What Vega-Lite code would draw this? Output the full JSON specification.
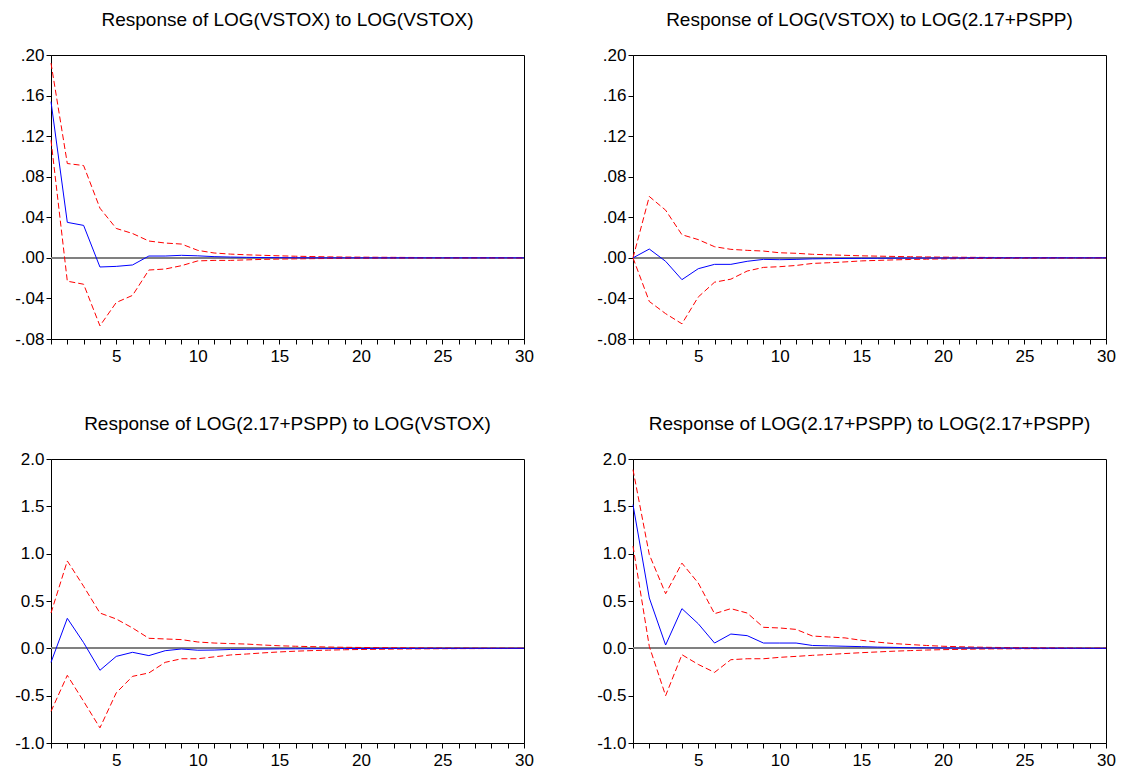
{
  "$schema": "https://vega.github.io/schema/vega-lite/v6.json",
  "background": "white",
  "padding": {"left": 14, "top": 10, "right": 0, "bottom": 0},
  "columns": 2,
  "spacing": {"column": 62, "row": 49},
  "datasets": {
    "p1": [
      {"h":1,"r":0.154,"hi":0.192,"lo":0.116},{"h":2,"r":0.035,"hi":0.093,"lo":-0.023},{"h":3,"r":0.032,"hi":0.091,"lo":-0.026},{"h":4,"r":-0.009,"hi":0.049,"lo":-0.067},{"h":5,"r":-0.0084,"hi":0.029,"lo":-0.044},{"h":6,"r":-0.007,"hi":0.024,"lo":-0.037},{"h":7,"r":0.0018,"hi":0.0166,"lo":-0.012},{"h":8,"r":0.0018,"hi":0.0146,"lo":-0.011},{"h":9,"r":0.0025,"hi":0.0136,"lo":-0.0077},{"h":10,"r":0.002,"hi":0.0074,"lo":-0.003},
      {"h":11,"r":0.0012,"hi":0.0048,"lo":-0.0025},{"h":12,"r":0.0008,"hi":0.0037,"lo":-0.0025},{"h":13,"r":0.0005,"hi":0.003,"lo":-0.002},{"h":14,"r":0.0003,"hi":0.0025,"lo":-0.0015},{"h":15,"r":0.0002,"hi":0.002,"lo":-0.0012},{"h":16,"r":0.0001,"hi":0.0016,"lo":-0.001},{"h":17,"r":0,"hi":0.0013,"lo":-0.0008},{"h":18,"r":0,"hi":0.001,"lo":-0.0006},{"h":19,"r":0,"hi":0.0008,"lo":-0.0005},{"h":20,"r":0,"hi":0.0007,"lo":-0.0004},
      {"h":21,"r":0,"hi":0.0006,"lo":-0.0003},{"h":22,"r":0,"hi":0.0005,"lo":-0.0003},{"h":23,"r":0,"hi":0.0004,"lo":-0.0002},{"h":24,"r":0,"hi":0.0003,"lo":-0.0002},{"h":25,"r":0,"hi":0.0003,"lo":-0.0002},{"h":26,"r":0,"hi":0.0002,"lo":-0.0001},{"h":27,"r":0,"hi":0.0002,"lo":-0.0001},{"h":28,"r":0,"hi":0.0002,"lo":-0.0001},{"h":29,"r":0,"hi":0.0001,"lo":-0.0001},{"h":30,"r":0,"hi":0.0001,"lo":-0.0001}
    ],
    "p2": [
      {"h":1,"r":0,"hi":0,"lo":0},{"h":2,"r":0.0087,"hi":0.0605,"lo":-0.043},{"h":3,"r":-0.0034,"hi":0.047,"lo":-0.055},{"h":4,"r":-0.0215,"hi":0.0228,"lo":-0.065},{"h":5,"r":-0.0107,"hi":0.018,"lo":-0.0386},{"h":6,"r":-0.0064,"hi":0.011,"lo":-0.024},{"h":7,"r":-0.0064,"hi":0.0084,"lo":-0.021},{"h":8,"r":-0.0034,"hi":0.0074,"lo":-0.013},{"h":9,"r":-0.0015,"hi":0.0067,"lo":-0.0094},{"h":10,"r":-0.0018,"hi":0.005,"lo":-0.0087},
      {"h":11,"r":-0.0015,"hi":0.0045,"lo":-0.0075},{"h":12,"r":-0.001,"hi":0.0035,"lo":-0.0055},{"h":13,"r":-0.0008,"hi":0.003,"lo":-0.0048},{"h":14,"r":-0.0006,"hi":0.0025,"lo":-0.004},{"h":15,"r":-0.0005,"hi":0.002,"lo":-0.003},{"h":16,"r":-0.0004,"hi":0.0017,"lo":-0.0025},{"h":17,"r":-0.0003,"hi":0.0014,"lo":-0.002},{"h":18,"r":-0.0002,"hi":0.0011,"lo":-0.0016},{"h":19,"r":-0.0002,"hi":0.0009,"lo":-0.0013},{"h":20,"r":-0.0001,"hi":0.0007,"lo":-0.001},
      {"h":21,"r":-0.0001,"hi":0.0006,"lo":-0.0008},{"h":22,"r":0,"hi":0.0005,"lo":-0.0006},{"h":23,"r":0,"hi":0.0004,"lo":-0.0005},{"h":24,"r":0,"hi":0.0003,"lo":-0.0004},{"h":25,"r":0,"hi":0.0003,"lo":-0.0003},{"h":26,"r":0,"hi":0.0002,"lo":-0.0003},{"h":27,"r":0,"hi":0.0002,"lo":-0.0002},{"h":28,"r":0,"hi":0.0001,"lo":-0.0002},{"h":29,"r":0,"hi":0.0001,"lo":-0.0001},{"h":30,"r":0,"hi":0.0001,"lo":-0.0001}
    ],
    "p3": [
      {"h":1,"r":-0.148,"hi":0.373,"lo":-0.666},{"h":2,"r":0.317,"hi":0.923,"lo":-0.285},{"h":3,"r":0.06,"hi":0.655,"lo":-0.56},{"h":4,"r":-0.232,"hi":0.373,"lo":-0.84},{"h":5,"r":-0.085,"hi":0.31,"lo":-0.47},{"h":6,"r":-0.042,"hi":0.215,"lo":-0.296},{"h":7,"r":-0.077,"hi":0.106,"lo":-0.26},{"h":8,"r":-0.025,"hi":0.099,"lo":-0.148},{"h":9,"r":-0.007,"hi":0.092,"lo":-0.11},{"h":10,"r":-0.02,"hi":0.067,"lo":-0.11},
      {"h":11,"r":-0.018,"hi":0.056,"lo":-0.09},{"h":12,"r":-0.012,"hi":0.05,"lo":-0.07},{"h":13,"r":-0.01,"hi":0.045,"lo":-0.06},{"h":14,"r":-0.008,"hi":0.035,"lo":-0.048},{"h":15,"r":-0.006,"hi":0.027,"lo":-0.038},{"h":16,"r":-0.005,"hi":0.022,"lo":-0.03},{"h":17,"r":-0.004,"hi":0.018,"lo":-0.024},{"h":18,"r":-0.003,"hi":0.014,"lo":-0.019},{"h":19,"r":-0.002,"hi":0.011,"lo":-0.015},{"h":20,"r":-0.002,"hi":0.009,"lo":-0.012},
      {"h":21,"r":-0.001,"hi":0.007,"lo":-0.01},{"h":22,"r":-0.001,"hi":0.006,"lo":-0.008},{"h":23,"r":-0.001,"hi":0.005,"lo":-0.006},{"h":24,"r":0,"hi":0.004,"lo":-0.005},{"h":25,"r":0,"hi":0.003,"lo":-0.004},{"h":26,"r":0,"hi":0.003,"lo":-0.003},{"h":27,"r":0,"hi":0.002,"lo":-0.003},{"h":28,"r":0,"hi":0.002,"lo":-0.002},{"h":29,"r":0,"hi":0.002,"lo":-0.002},{"h":30,"r":0,"hi":0.001,"lo":-0.001}
    ],
    "p4": [
      {"h":1,"r":1.518,"hi":1.887,"lo":1.08},{"h":2,"r":0.532,"hi":0.99,"lo":0.02},{"h":3,"r":0.035,"hi":0.577,"lo":-0.5},{"h":4,"r":0.419,"hi":0.9,"lo":-0.067},{"h":5,"r":0.26,"hi":0.69,"lo":-0.17},{"h":6,"r":0.056,"hi":0.366,"lo":-0.254},{"h":7,"r":0.151,"hi":0.419,"lo":-0.12},{"h":8,"r":0.134,"hi":0.373,"lo":-0.11},{"h":9,"r":0.056,"hi":0.222,"lo":-0.11},{"h":10,"r":0.056,"hi":0.215,"lo":-0.095},
      {"h":11,"r":0.056,"hi":0.2,"lo":-0.085},{"h":12,"r":0.03,"hi":0.13,"lo":-0.074},{"h":13,"r":0.026,"hi":0.12,"lo":-0.065},{"h":14,"r":0.022,"hi":0.11,"lo":-0.055},{"h":15,"r":0.018,"hi":0.085,"lo":-0.046},{"h":16,"r":0.013,"hi":0.065,"lo":-0.038},{"h":17,"r":0.01,"hi":0.05,"lo":-0.03},{"h":18,"r":0.006,"hi":0.04,"lo":-0.024},{"h":19,"r":0.005,"hi":0.03,"lo":-0.018},{"h":20,"r":0.004,"hi":0.022,"lo":-0.014},
      {"h":21,"r":0.003,"hi":0.017,"lo":-0.011},{"h":22,"r":0.003,"hi":0.013,"lo":-0.008},{"h":23,"r":0.002,"hi":0.01,"lo":-0.006},{"h":24,"r":0.002,"hi":0.008,"lo":-0.005},{"h":25,"r":0.001,"hi":0.006,"lo":-0.004},{"h":26,"r":0.001,"hi":0.005,"lo":-0.003},{"h":27,"r":0.001,"hi":0.004,"lo":-0.002},{"h":28,"r":0.001,"hi":0.003,"lo":-0.002},{"h":29,"r":0,"hi":0.002,"lo":-0.001},{"h":30,"r":0,"hi":0.002,"lo":-0.001}
    ]
  },
  "concat": [
    {
      "title": "Response of LOG(VSTOX) to LOG(VSTOX)",
      "width": 473, "height": 284,
      "data": {"name": "p1"},
      "encoding": {
        "x": {"field": "h", "type": "quantitative", "scale": {"domain": [1, 30], "nice": false, "zero": false}, "axis": {"values": [1,2,3,4,5,6,7,8,9,10,11,12,13,14,15,16,17,18,19,20,21,22,23,24,25,26,27,28,29,30], "labelExpr": "datum.value % 5 == 0 ? datum.label : ''", "title": null}}
      },
      "layer": [
        {"mark": {"type": "rule", "color": "#808080", "strokeWidth": 1.5}, "encoding": {"y": {"datum": 0, "type": "quantitative", "scale": {"domain": [-0.08, 0.2], "nice": false}, "axis": {"values": [-0.08,-0.04,0,0.04,0.08,0.12,0.16,0.2], "labelExpr": "(datum.value < 0 ? '-' : '') + replace(format(abs(datum.value), '.2f'), '0.', '.')", "title": null}}, "x": null}},
        {"mark": {"type": "line", "color": "#FF0000", "strokeWidth": 1, "strokeDash": [6, 3]}, "encoding": {"y": {"field": "hi", "type": "quantitative"}}},
        {"mark": {"type": "line", "color": "#FF0000", "strokeWidth": 1, "strokeDash": [6, 3]}, "encoding": {"y": {"field": "lo", "type": "quantitative"}}},
        {"mark": {"type": "line", "color": "#0000FF", "strokeWidth": 1}, "encoding": {"y": {"field": "r", "type": "quantitative"}}}
      ]
    },
    {
      "title": "Response of LOG(VSTOX) to LOG(2.17+PSPP)",
      "width": 473, "height": 284,
      "data": {"name": "p2"},
      "encoding": {
        "x": {"field": "h", "type": "quantitative", "scale": {"domain": [1, 30], "nice": false, "zero": false}, "axis": {"values": [1,2,3,4,5,6,7,8,9,10,11,12,13,14,15,16,17,18,19,20,21,22,23,24,25,26,27,28,29,30], "labelExpr": "datum.value % 5 == 0 ? datum.label : ''", "title": null}}
      },
      "layer": [
        {"mark": {"type": "rule", "color": "#808080", "strokeWidth": 1.5}, "encoding": {"y": {"datum": 0, "type": "quantitative", "scale": {"domain": [-0.08, 0.2], "nice": false}, "axis": {"values": [-0.08,-0.04,0,0.04,0.08,0.12,0.16,0.2], "labelExpr": "(datum.value < 0 ? '-' : '') + replace(format(abs(datum.value), '.2f'), '0.', '.')", "title": null}}, "x": null}},
        {"mark": {"type": "line", "color": "#FF0000", "strokeWidth": 1, "strokeDash": [6, 3]}, "encoding": {"y": {"field": "hi", "type": "quantitative"}}},
        {"mark": {"type": "line", "color": "#FF0000", "strokeWidth": 1, "strokeDash": [6, 3]}, "encoding": {"y": {"field": "lo", "type": "quantitative"}}},
        {"mark": {"type": "line", "color": "#0000FF", "strokeWidth": 1}, "encoding": {"y": {"field": "r", "type": "quantitative"}}}
      ]
    },
    {
      "title": "Response of LOG(2.17+PSPP) to LOG(VSTOX)",
      "width": 473, "height": 284,
      "data": {"name": "p3"},
      "encoding": {
        "x": {"field": "h", "type": "quantitative", "scale": {"domain": [1, 30], "nice": false, "zero": false}, "axis": {"values": [1,2,3,4,5,6,7,8,9,10,11,12,13,14,15,16,17,18,19,20,21,22,23,24,25,26,27,28,29,30], "labelExpr": "datum.value % 5 == 0 ? datum.label : ''", "title": null}}
      },
      "layer": [
        {"mark": {"type": "rule", "color": "#808080", "strokeWidth": 1.5}, "encoding": {"y": {"datum": 0, "type": "quantitative", "scale": {"domain": [-1, 2], "nice": false}, "axis": {"values": [-1,-0.5,0,0.5,1,1.5,2], "labelExpr": "(datum.value < 0 ? '-' : '') + format(abs(datum.value), '.1f')", "title": null}}, "x": null}},
        {"mark": {"type": "line", "color": "#FF0000", "strokeWidth": 1, "strokeDash": [6, 3]}, "encoding": {"y": {"field": "hi", "type": "quantitative"}}},
        {"mark": {"type": "line", "color": "#FF0000", "strokeWidth": 1, "strokeDash": [6, 3]}, "encoding": {"y": {"field": "lo", "type": "quantitative"}}},
        {"mark": {"type": "line", "color": "#0000FF", "strokeWidth": 1}, "encoding": {"y": {"field": "r", "type": "quantitative"}}}
      ]
    },
    {
      "title": "Response of LOG(2.17+PSPP) to LOG(2.17+PSPP)",
      "width": 473, "height": 284,
      "data": {"name": "p4"},
      "encoding": {
        "x": {"field": "h", "type": "quantitative", "scale": {"domain": [1, 30], "nice": false, "zero": false}, "axis": {"values": [1,2,3,4,5,6,7,8,9,10,11,12,13,14,15,16,17,18,19,20,21,22,23,24,25,26,27,28,29,30], "labelExpr": "datum.value % 5 == 0 ? datum.label : ''", "title": null}}
      },
      "layer": [
        {"mark": {"type": "rule", "color": "#808080", "strokeWidth": 1.5}, "encoding": {"y": {"datum": 0, "type": "quantitative", "scale": {"domain": [-1, 2], "nice": false}, "axis": {"values": [-1,-0.5,0,0.5,1,1.5,2], "labelExpr": "(datum.value < 0 ? '-' : '') + format(abs(datum.value), '.1f')", "title": null}}, "x": null}},
        {"mark": {"type": "line", "color": "#FF0000", "strokeWidth": 1, "strokeDash": [6, 3]}, "encoding": {"y": {"field": "hi", "type": "quantitative"}}},
        {"mark": {"type": "line", "color": "#FF0000", "strokeWidth": 1, "strokeDash": [6, 3]}, "encoding": {"y": {"field": "lo", "type": "quantitative"}}},
        {"mark": {"type": "line", "color": "#0000FF", "strokeWidth": 1}, "encoding": {"y": {"field": "r", "type": "quantitative"}}}
      ]
    }
  ],
  "config": {
    "font": "Liberation Sans",
    "view": {"stroke": "#000000", "strokeWidth": 1},
    "title": {"font": "Liberation Sans", "fontSize": 19, "fontWeight": "normal", "color": "#000000", "offset": 16, "anchor": "middle"},
    "axis": {"grid": false, "domainColor": "#000000", "tickColor": "#000000", "labelColor": "#000000", "labelFont": "Liberation Sans", "labelFontSize": 17, "tickSize": 5},
    "axisY": {"labelAlign": "right", "labelPadding": 2},
    "axisX": {"labelFlush": false, "labelPadding": 4}
  }
}
